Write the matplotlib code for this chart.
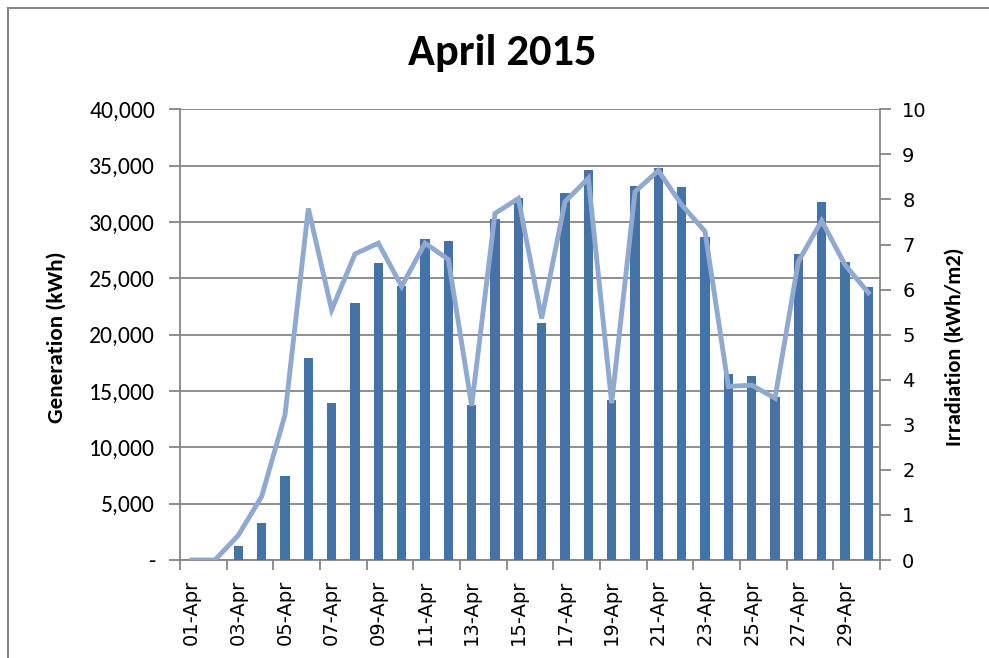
import matplotlib
matplotlib.use("Agg")
import matplotlib.pyplot as plt
from matplotlib.ticker import FuncFormatter, FixedLocator
from matplotlib.lines import Line2D

days = list(range(1, 31))
day_labels = [f"{d:02d}-Apr" for d in days]
generation = [0, 0, 1250, 3250, 7480, 17950, 13950, 22850, 26330, 24300,
              28500, 28280, 13750, 30250, 32100, 21050, 32550, 34600, 14200, 33200,
              34800, 33080, 28700, 16500, 16300, 14500, 27150, 31780, 26420, 24260]
irradiation = [0, 0, 0.55, 1.41, 3.22, 7.80, 5.55, 6.79, 7.03, 6.07,
               7.03, 6.67, 3.42, 7.69, 8.02, 5.36, 7.95, 8.47, 3.48, 8.17,
               8.64, 7.88, 7.29, 3.85, 3.88, 3.59, 6.62, 7.53, 6.55, 5.93]

bar_color = "#4673a7"
line_color = "#8fa9d0"
grid_color = "#868686"

fig = plt.figure(figsize=(9.89, 6.58), dpi=100)
W, H = 989, 658
ax = fig.add_axes([180 / W, 1 - 560 / H, 700 / W, (560 - 109.3) / H])

ax.bar(days, generation, width=0.4, color=bar_color, zorder=3)
ax.set_xlim(0.5, 30.5)
ax.set_ylim(0, 40000)
ax.set_yticks(range(0, 40001, 5000))
ax.yaxis.set_major_formatter(FuncFormatter(lambda v, p: "-" if v == 0 else f"{int(v):,}"))
ax.grid(axis="y", color=grid_color, linewidth=1.3, zorder=0)
ax.set_axisbelow(True)

ax.set_xticks(days[::2])
ax.set_xticklabels(day_labels[::2], rotation=90, fontsize=14, family="DejaVu Sans")
ax.tick_params(axis="x", which="major", length=0, pad=14)
ax.xaxis.set_minor_locator(FixedLocator([x + 0.5 for x in range(0, 31, 2)]))
ax.tick_params(axis="x", which="minor", length=7, width=1.3, color=grid_color, direction="out")
ax.tick_params(axis="y", length=8, width=1.3, color=grid_color, direction="out", pad=10)
for lab in ax.get_yticklabels():
    lab.set_family(["Carlito", "Lato", "DejaVu Sans"])
    lab.set_fontsize(17)

for s in ["top", "right"]:
    ax.spines[s].set_visible(False)
for s in ["left", "bottom"]:
    ax.spines[s].set_color(grid_color)
    ax.spines[s].set_linewidth(1.3)

ax2 = ax.twinx()
ax2.plot(days, irradiation, color=line_color, linewidth=3.5, solid_joinstyle="miter", zorder=4)
ax2.set_ylim(0, 10)
ax2.set_yticks(range(0, 11))
ax2.tick_params(axis="y", length=8, width=1.3, color=grid_color, direction="out", labelsize=14, pad=8)
for lab in ax2.get_yticklabels():
    lab.set_family("DejaVu Sans")
for s in ["top", "left", "bottom"]:
    ax2.spines[s].set_visible(False)
ax2.spines["right"].set_color(grid_color)
ax2.spines["right"].set_linewidth(1.3)

fig.text(57 / W, 1 - 337 / H, "Generation (kWh)", rotation=90, ha="center", va="center",
         fontsize=16.5, fontweight="bold", family=["Carlito", "Lato", "DejaVu Sans"])
fig.text(955 / W, 1 - 347 / H, "Irradiation (kWh/m2)", rotation=90, ha="center", va="center",
         fontsize=16, fontweight="bold", family=["Carlito", "Lato", "DejaVu Sans"])
fig.text(502 / W, 1 - 53 / H, "April 2015", ha="center", va="center",
         fontsize=32, fontweight="bold", family=["Carlito", "Lato", "DejaVu Sans"])

fig.add_artist(Line2D([8 / W, 8 / W], [0, 1 - 8 / H], color=grid_color, linewidth=1.5, transform=fig.transFigure))
fig.add_artist(Line2D([8 / W, 1], [1 - 8 / H, 1 - 8 / H], color=grid_color, linewidth=1.5, transform=fig.transFigure))

fig.savefig("out.png", dpi=100)
